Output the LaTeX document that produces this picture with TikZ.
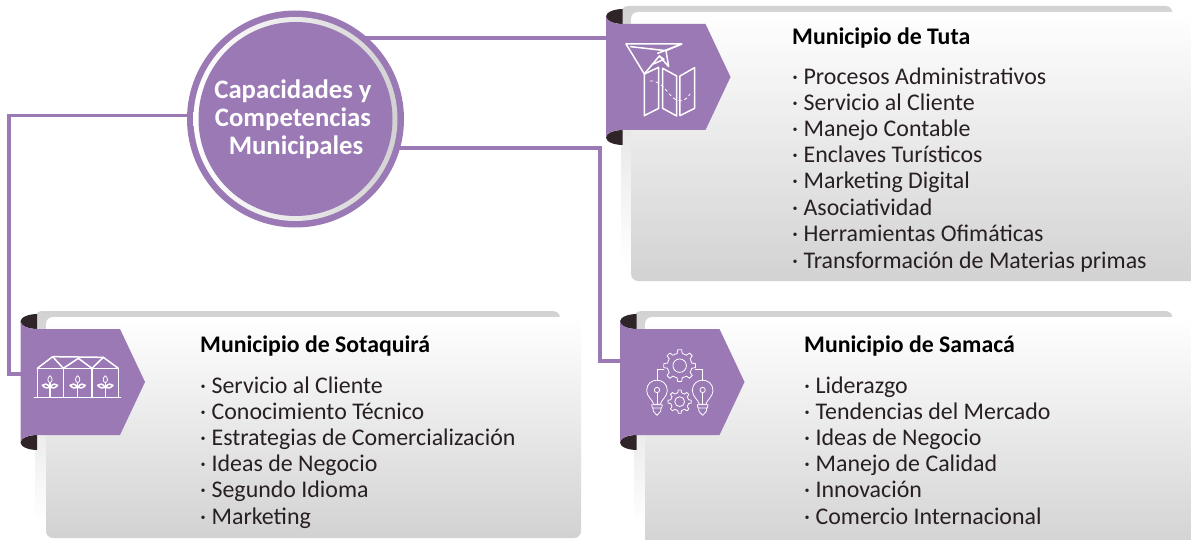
\documentclass[tikz,border=0pt]{standalone}
\usepackage{fontspec}
\setmainfont{Carlito}
\usetikzlibrary{calc}
\definecolor{morado}{HTML}{9A79B5}
\definecolor{oscuro}{HTML}{2F2528}
\definecolor{grisp}{HTML}{D2D2D2}
\tikzset{
  conn/.style={draw=morado,line width=3.2pt},
  outerpanel/.style={rounded corners=7pt,top color=grisp,bottom color=white},
  mainpanel/.style={rounded corners=7pt,top color=white,bottom color=grisp},
  ban/.style={fill=morado,draw=none},
  curl/.style={fill=oscuro,draw=none},
  anchorbox/.style={minimum width=99pt,minimum height=106pt,inner sep=0pt,anchor=north west},
  title/.style={font=\fontsize{23.8}{26}\selectfont\bfseries,anchor=base west,text=black,inner sep=0pt},
  item/.style={font=\fontsize{23.9}{26}\selectfont,anchor=base west,text=oscuro!85!black,inner sep=0pt},
  ico/.style={draw=white,line width=1.5pt,line join=round,line cap=round},
  icothin/.style={draw=white,line width=.8pt,line join=round,line cap=round}
}
\newcommand{\bandera}[2]{% left x, top y
  \begin{scope}
    \clip (#1-1,#2-16) rectangle (#1+16.5,#2+1);
    \fill[curl] (#1+17,#2-7.5) ellipse (17 and 7.5);
  \end{scope}
  \begin{scope}
    \clip (#1-1,#2+105) rectangle (#1+16.5,#2+122);
    \fill[curl] (#1+17,#2+113.5) ellipse (17 and 7.5);
  \end{scope}
  \fill[ban] (#1,#2-8) .. controls (#1,#2-3) and (#1+8,#2) .. (#1+16,#2) -- (#1+99.5,#2) -- (#1+124.5,#2+53) -- (#1+99.5,#2+106) -- (#1+16,#2+106) .. controls (#1+8,#2+106) and (#1,#2+109) .. (#1,#2+113) -- cycle;
}
\newcommand{\engrane}[3]{% x y r (in zoom units)
  \foreach \a in {0,45,...,315}{
    \draw[icothin] ($(#1,#2)+(\a-12:#3*.78)$) -- ($(#1,#2)+(\a-7:#3)$) -- ($(#1,#2)+(\a+7:#3)$) -- ($(#1,#2)+(\a+12:#3*.78)$) -- ($(#1,#2)+(\a+33:#3*.78)$);
  }
  \draw[icothin] (#1,#2) circle ({#3*.42});
}
\newcommand{\foco}[2]{%
  \draw[icothin] (#1-10,#2+41) .. controls (#1-12,#2+28) and (#1-31,#2+18) .. (#1-31,#2) .. controls (#1-31,#2-42) and (#1+31,#2-42) .. (#1+31,#2) .. controls (#1+31,#2+18) and (#1+12,#2+28) .. (#1+10,#2+41) -- cycle;
  \draw[icothin] (#1,#2-2) circle (8);
  \draw[icothin] (#1,#2+6) -- (#1,#2+41);
  \draw[icothin] (#1-16,#2+42) -- (#1+16,#2+42) -- (#1+14,#2+52) -- (#1-14,#2+52) -- cycle;
  \draw[icothin] (#1-12,#2+52) -- (#1-11,#2+62) -- (#1,#2+74) -- (#1+11,#2+62) -- (#1+12,#2+52);
}
\begin{document}
\begin{tikzpicture}[x=1pt,y=-1pt]
\useasboundingbox (0,0) rectangle (1191,540);
\clip (0,0) rectangle (1191,540);

% panels
\shade[outerpanel] (621,6) rectangle (1172.5,262);
\shade[mainpanel] (631,12) rectangle (1205,281);
\shade[outerpanel] (35,311) rectangle (560,520);
\shade[mainpanel] (46,317) rectangle (581,538);
\shade[outerpanel] (634,311) rectangle (1172.5,525);
\shade[mainpanel] (645,317) rectangle (1205,552);

% anchors for connectors
\node[anchorbox] (bTuta) at (606,24) {};
\node[anchorbox] (bSota) at (20.5,329) {};
\node[anchorbox] (bSama) at (620,329) {};
\node[circle,minimum size=217pt,inner sep=0pt] (cap) at (295.5,119) {};
\coordinate (esqSota) at (9,115.5);
\coordinate (finSota) at (9,374);
\coordinate (esqSama) at (600,148);
\coordinate (finSama) at (600,361);

% connectors
\draw[conn] (cap.center |- 0,38) -- (bTuta.west |- 0,38);
\draw[conn] (cap.center |- esqSota) -- (esqSota) -- (finSota) -- (bSota.west |- finSota);
\draw[conn] (cap.center |- esqSama) -- (esqSama) -- (finSama) -- (bSama.west |- finSama);

% banners
\bandera{606}{24}
\bandera{20.5}{329}
\bandera{620}{329}

% central circle
\fill[morado] (cap) circle (108.5);
\shade[left color=white,right color=grisp] (cap) circle (102);
\fill[morado] (cap) circle (97);
\node[font=\fontsize{26.7}{28}\selectfont\bfseries,text=white,align=center,inner sep=0pt] (capt) at (293,119) {Capacidades y\\Competencias\\\hspace*{6pt}Municipales};

% icon: plane and map
\begin{scope}[shift={(590,0)},x=.3333pt,y=-.3333pt]
  \draw[ico] (108,132) -- (275,132) -- (228,152) -- (236,200) -- (208,168) -- (163,222) -- cycle;
  \draw[ico] (122,140) -- (228,152);
  \draw[ico] (275,132) -- (203,160);
  \draw[ico] (208,168) -- (222,178) -- (190,192);
  \draw[ico] (163,222) -- (206,202) -- (206,325) -- (163,347) -- cycle;
  \draw[ico] (218,205) -- (260,228) -- (260,348) -- (218,325) -- cycle;
  \draw[ico] (270,228) -- (314,203) -- (314,325) -- (270,347) -- cycle;
  \draw[icothin,dashed] (180,243) .. controls (225,240) and (235,300) .. (270,303) .. controls (285,303) and (295,290) .. (300,282);
\end{scope}

% icon: greenhouse
\begin{scope}[shift={(0,300)},x=.3333pt,y=-.3333pt]
  \draw[ico] (103,292) -- (362,292);
  \draw[ico] (112,292) -- (112,205) -- (355,205) -- (355,292);
  \draw[ico] (190,205) -- (190,292) (276,205) -- (276,292);
  \draw[ico] (112,205) -- (158,170) -- (190,205) -- (235,175) -- (276,205) -- (310,172) -- (355,205);
  \draw[ico] (158,170) -- (310,172);
  \foreach \p in {150,233,316}{
    \draw[ico] (\p,250) -- (\p,290);
    \draw[icothin] (\p,227) .. controls (\p+9,234) and (\p+8,246) .. (\p,248) .. controls (\p-8,246) and (\p-9,234) .. (\p,227) -- cycle;
    \draw[ico] (\p,262) .. controls (\p-8,250) and (\p-18,250) .. (\p-23,256) .. controls (\p-15,265) and (\p-8,266) .. (\p,262);
    \draw[ico] (\p,262) .. controls (\p+8,250) and (\p+18,250) .. (\p+23,256) .. controls (\p+15,265) and (\p+8,266) .. (\p,262);
  }
\end{scope}

% icon: gears and bulbs
\begin{scope}[shift={(590,300)},x=.3333pt,y=-.3333pt]
  \engrane{269}{197}{48}
  \engrane{269}{305}{35}
  \foco{201}{272}
  \foco{338}{272}
  \draw[icothin] (222,208) -- (201,208) -- (201,241);
  \draw[icothin] (316,208) -- (338,208) -- (338,241);
\end{scope}

% text Tuta
\node[title] (t1) at (792,45) {Municipio de Tuta};
\node[item] (t1a) at (792,85) {· Procesos Administrativos};
\node[item] (t1b) at (792,111) {· Servicio al Cliente};
\node[item] (t1c) at (792,137) {· Manejo Contable};
\node[item] (t1d) at (792,163) {· Enclaves Turísticos};
\node[item] (t1e) at (792,189) {· Marketing Digital};
\node[item] (t1f) at (792,215) {· Asociatividad};
\node[item] (t1g) at (792,241) {· Herramientas Ofimáticas};
\node[item] (t1h) at (792,268) {· Transformación de Materias primas};

% text Sotaquira
\node[title] (t2) at (200,352) {Municipio de Sotaquirá};
\node[item] (t2a) at (200,393) {· Servicio al Cliente};
\node[item] (t2b) at (200,419) {· Conocimiento Técnico};
\node[item] (t2c) at (200,445) {· Estrategias de Comercialización};
\node[item] (t2d) at (200,471) {· Ideas de Negocio};
\node[item] (t2e) at (200,497) {· Segundo Idioma};
\node[item] (t2f) at (200,524) {· Marketing};

% text Samaca
\node[title] (t3) at (804,352) {Municipio de Samacá};
\node[item] (t3a) at (804,393) {· Liderazgo};
\node[item] (t3b) at (804,419) {· Tendencias del Mercado};
\node[item] (t3c) at (804,445) {· Ideas de Negocio};
\node[item] (t3d) at (804,471) {· Manejo de Calidad};
\node[item] (t3e) at (804,497) {· Innovación};
\node[item] (t3f) at (804,524) {· Comercio Internacional};
\end{tikzpicture}
\end{document}
